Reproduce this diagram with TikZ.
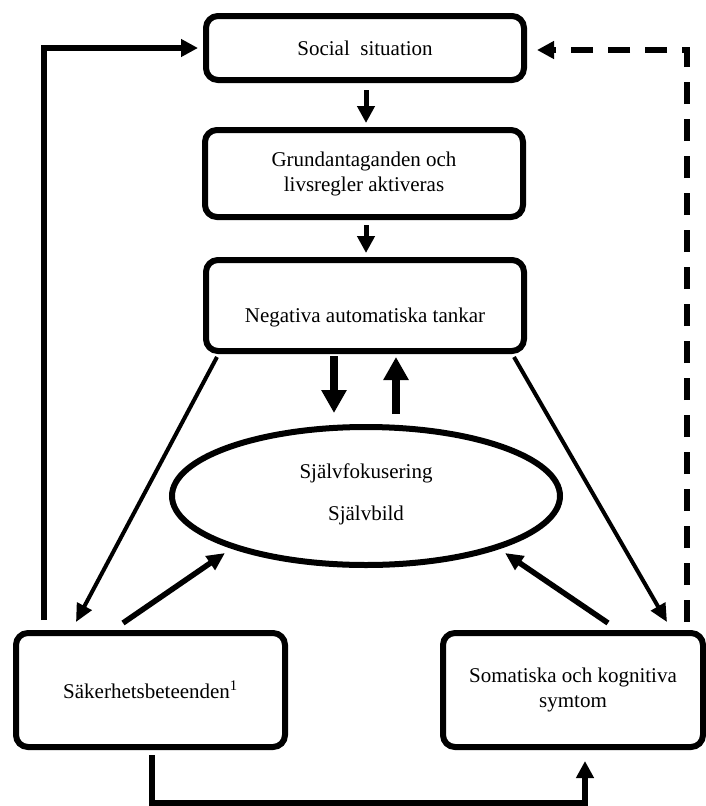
\documentclass[tikz,border=0pt]{standalone}
\usepackage{fontspec}
\setmainfont{Liberation Serif}
\usetikzlibrary{arrows.meta,shapes.geometric}
\begin{document}
\begin{tikzpicture}[x=1pt,y=-1pt,
  box/.style={draw,line width=6pt,rounded corners=12pt,inner sep=0pt,align=center,font=\fontsize{21}{25}\selectfont},
  lbl/.style={font=\fontsize{21}{25}\selectfont,align=center,inner sep=0pt},
  sarr/.style={line width=5pt,-{Triangle[length=17pt,width=17pt]}},
  barr/.style={line width=8.5pt,-{Triangle[length=23pt,width=24pt]}},
  diag/.style={line width=4pt,-{Triangle[length=18pt,width=16pt]}},
  dsh/.style={line width=6pt,dash pattern=on 22pt off 15pt,-{Triangle[length=17pt,width=17pt]}},
]
\useasboundingbox (0,0) rectangle (706,806);

\node[box,minimum width=318pt,minimum height=64pt] (soc) at (365,48) {Social~ situation};
\node[box,minimum width=318pt,minimum height=87pt] (grd) at (364,173.5) {Grundantaganden och\\livsregler aktiveras};
\node[box,minimum width=318pt,minimum height=91pt] (neg) at (365,305.5) {};
\node[lbl] (negt) at (365,317) {Negativa automatiska tankar};
\node[draw,ellipse,line width=6pt,minimum width=388pt,minimum height=138pt,inner sep=0pt] (ell) at (366,496) {};
\node[lbl] (ellt) at (366,494) {Självfokusering\\[17pt]Självbild};
\node[box,minimum width=269pt,minimum height=114pt] (sak) at (150.5,690) {Säkerhetsbeteenden\textsuperscript{1}};
\node[box,minimum width=260pt,minimum height=114pt] (som) at (573,690) {Somatiska och kognitiva\\symtom};

% connector end points
\coordinate (s1) at (366,90);  \coordinate (e1) at (366,123);
\coordinate (s2) at (366,225); \coordinate (e2) at (366,253);
\coordinate (s3) at (334,356); \coordinate (e3) at (334,413);
\coordinate (s4) at (396,414); \coordinate (e4) at (396,357);
\coordinate (s5) at (217,357); \coordinate (e5) at (76,622);
\coordinate (s6) at (514,357); \coordinate (e6) at (667,622);
\coordinate (s7) at (123,623); \coordinate (e7) at (225,553);
\coordinate (s8) at (608,623); \coordinate (e8) at (505,553);
\coordinate (s9) at (44,620);  \coordinate (e9) at (198,48);
\coordinate (s10) at (687,622); \coordinate (e10) at (537,50);
\coordinate (s11) at (152,755); \coordinate (m11) at (585,803); \coordinate (e11) at (585,761);

\draw[sarr] (s1) -- (e1);
\draw[sarr] (s2) -- (e2);
\draw[barr] (s3) -- (e3);
\draw[barr] (s4) -- (e4);
\draw[diag] (s5) -- (e5);
\draw[diag] (s6) -- (e6);
\draw[diag,line width=5.5pt] (s7) -- (e7);
\draw[diag,line width=5.5pt] (s8) -- (e8);
\draw[sarr,line width=6pt] (s9) |- (e9);
\draw[dsh] (s10) |- (e10);
\draw[sarr,line width=5.5pt] (s11) |- (m11) -- (e11);
\end{tikzpicture}
\end{document}
